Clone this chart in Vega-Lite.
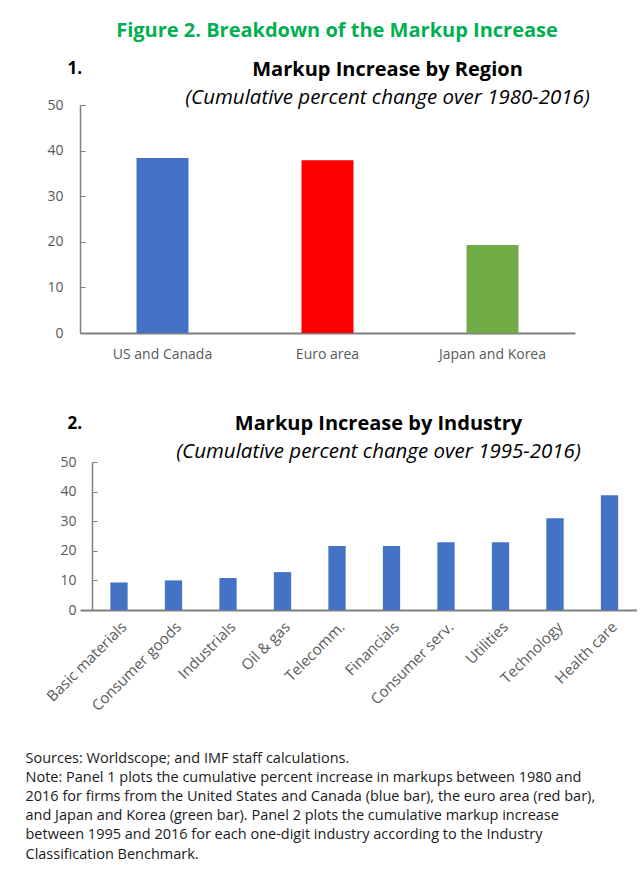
{
  "$schema": "https://vega.github.io/schema/vega-lite/v6.json",
  "background": "white",
  "padding": {"left": 25, "top": 21, "right": 0, "bottom": 0},
  "bounds": "flush",
  "spacing": 129,
  "title": {
    "text": "Figure 2. Breakdown of the Markup Increase",
    "color": "#00B050",
    "font": "Open Sans",
    "fontSize": 20,
    "fontWeight": "bold",
    "anchor": "middle",
    "frame": "bounds",
    "offset": 18,
    "dx": 6
  },
  "config": {
    "view": {"stroke": null},
    "font": "Open Sans",
    "axis": {
      "labelFont": "Open Sans",
      "labelFontSize": 14,
      "labelColor": "#595959",
      "domainColor": "#7F7F7F",
      "tickColor": "#7F7F7F",
      "grid": false
    }
  },
  "vconcat": [
    {
      "width": 495,
      "height": 228,
      "title": {
        "text": "Markup Increase by Region",
        "subtitle": "(Cumulative percent change over 1980-2016)",
        "anchor": "middle",
        "frame": "group",
        "dx": 60,
        "font": "Open Sans",
        "fontSize": 20,
        "fontWeight": "bold",
        "color": "#000000",
        "subtitleFont": "Open Sans",
        "subtitleFontSize": 20.5,
        "subtitleFontStyle": "italic",
        "subtitleColor": "#000000",
        "subtitlePadding": 8,
        "offset": -49
      },
      "data": {
        "values": [
          {"region": "US and Canada", "value": 38.4},
          {"region": "Euro area", "value": 37.9},
          {"region": "Japan and Korea", "value": 19.3}
        ]
      },
      "mark": {"type": "bar"},
      "encoding": {
        "x": {
          "field": "region",
          "type": "nominal",
          "sort": null,
          "scale": {"paddingInner": 0.685, "paddingOuter": 0.3425},
          "axis": {
            "title": null,
            "labelAngle": 0,
            "ticks": false,
            "labelPadding": 14,
            "domainWidth": 2
          }
        },
        "y": {
          "field": "value",
          "type": "quantitative",
          "scale": {"domain": [0, 50]},
          "axis": {
            "values": [0, 10, 20, 30, 40, 50],
            "title": "1.",
            "titleAngle": 0,
            "titleAlign": "left",
            "titleBaseline": "alphabetic",
            "titleX": -13,
            "titleY": -32,
            "titleFont": "Open Sans",
            "titleFontSize": 17,
            "titleFontWeight": "bold",
            "titleColor": "#000000",
            "tickSize": -5,
            "labelPadding": 22,
            "domainWidth": 1.5
          }
        },
        "color": {
          "field": "region",
          "type": "nominal",
          "sort": null,
          "scale": {
            "domain": ["US and Canada", "Euro area", "Japan and Korea"],
            "range": ["#4472C4", "#FF0000", "#70AD47"]
          },
          "legend": null
        }
      }
    },
    {
      "width": 557,
      "height": 148,
      "title": {
        "text": "Markup Increase by Industry",
        "subtitle": "(Cumulative percent change over 1995-2016)",
        "anchor": "middle",
        "frame": "group",
        "dx": 20,
        "font": "Open Sans",
        "fontSize": 20,
        "fontWeight": "bold",
        "color": "#000000",
        "subtitleFont": "Open Sans",
        "subtitleFontSize": 20.5,
        "subtitleFontStyle": "italic",
        "subtitleColor": "#000000",
        "subtitlePadding": 8,
        "offset": -48
      },
      "data": {
        "values": [
          {"industry": "Basic materials", "value": 9.3},
          {"industry": "Consumer goods", "value": 10.0},
          {"industry": "Industrials", "value": 10.8},
          {"industry": "Oil & gas", "value": 12.8},
          {"industry": "Telecomm.", "value": 21.6},
          {"industry": "Financials", "value": 21.6},
          {"industry": "Consumer serv.", "value": 22.9},
          {"industry": "Utilities", "value": 22.9},
          {"industry": "Technology", "value": 31.0},
          {"industry": "Health care", "value": 38.8}
        ]
      },
      "mark": {"type": "bar", "color": "#4472C4"},
      "encoding": {
        "x": {
          "field": "industry",
          "type": "nominal",
          "sort": null,
          "scale": {"paddingInner": 0.683, "paddingOuter": 0.4515, "align": 0.617},
          "axis": {
            "labelAngle": -45,
            "labelFontSize": 15,
            "ticks": false,
            "labelPadding": 9,
            "domainWidth": 2,
            "title": [
              "Sources: Worldscope; and IMF staff calculations.",
              "Note: Panel 1 plots the cumulative percent increase in markups between 1980 and",
              "2016 for firms from the United States and Canada (blue bar), the euro area (red bar),",
              "and Japan and Korea (green bar). Panel 2 plots the cumulative markup increase",
              "between 1995 and 2016 for each one-digit industry according to the Industry",
              "Classification Benchmark."
            ],
            "titleX": -55,
            "titleY": 152,
            "titleAlign": "left",
            "titleAnchor": "start",
            "titleBaseline": "alphabetic",
            "titleFont": "Open Sans",
            "titleFontSize": 14.5,
            "titleFontWeight": "normal",
            "titleColor": "#1a1a1a",
            "titleLineHeight": 19.2
          }
        },
        "y": {
          "field": "value",
          "type": "quantitative",
          "scale": {"domain": [0, 50]},
          "axis": {
            "values": [0, 10, 20, 30, 40, 50],
            "offset": -12,
            "title": "2.",
            "titleAngle": 0,
            "titleAlign": "left",
            "titleBaseline": "alphabetic",
            "titleX": -25,
            "titleY": -34,
            "titleFont": "Open Sans",
            "titleFontSize": 17,
            "titleFontWeight": "bold",
            "titleColor": "#000000",
            "tickSize": -5,
            "labelPadding": 21,
            "domainWidth": 1.5
          }
        }
      }
    }
  ]
}
